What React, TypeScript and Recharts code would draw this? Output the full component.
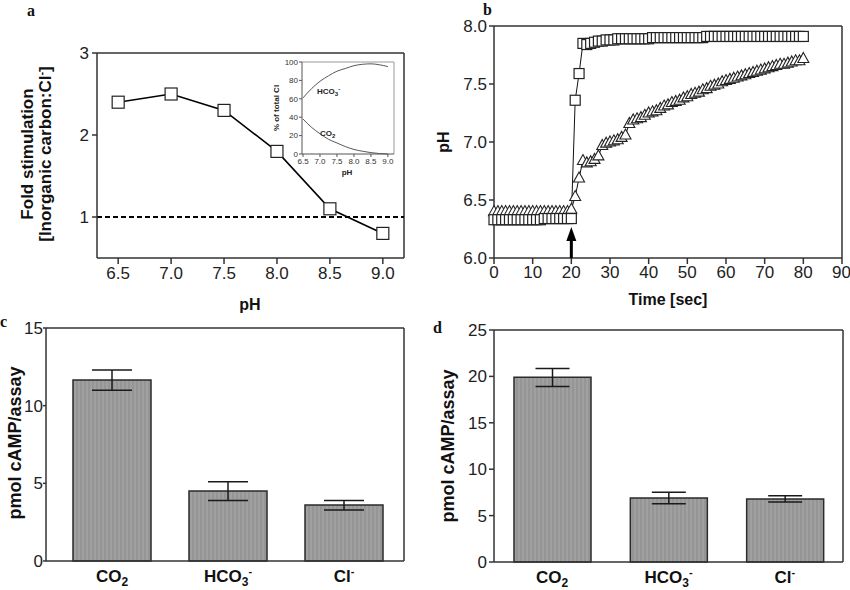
import React from "react";
import {
  Bar,
  BarChart,
  CartesianGrid,
  ErrorBar,
  Line,
  LineChart,
  ReferenceDot,
  ReferenceLine,
  XAxis,
  YAxis,
} from "recharts";

const FONT = '"Liberation Sans", Arial, Helvetica, sans-serif';
const SERIF = '"Liberation Serif", "Times New Roman", serif';
const INK = "#222";

// panel a: fold stimulation vs pH
const phValues = [6.5, 7.0, 7.5, 8.0, 8.5, 9.0];
const foldStimulation = [2.4, 2.5, 2.3, 1.8, 1.1, 0.8];

// inset: species distribution
const insetPh = [6.5, 6.75, 7.0, 7.25, 7.5, 7.75, 8.0, 8.25, 8.5, 8.75, 9.0];
const insetHco3 = [61, 71, 79, 85, 90, 93, 96, 97.5, 98, 97, 95];
const insetCo2 = [38, 29, 22, 16, 12, 8, 5, 3, 1.5, 0.5, 0];

// panel b: pH over time
const seconds = [
  0, 1, 2, 3, 4, 5, 6, 7, 8, 9, 10, 11, 12, 13, 14, 15, 16, 17, 18, 19, 20,
  21, 22, 23, 24, 25, 26, 27, 28, 29, 30, 31, 32, 33, 34, 35, 36, 37, 38, 39,
  40, 41, 42, 43, 44, 45, 46, 47, 48, 49, 50, 51, 52, 53, 54, 55, 56, 57, 58,
  59, 60, 61, 62, 63, 64, 65, 66, 67, 68, 69, 70, 71, 72, 73, 74, 75, 76, 77,
  78, 79, 80,
];
const squarePh = [
  6.33, 6.33, 6.33, 6.33, 6.33, 6.33, 6.33, 6.33, 6.33, 6.33, 6.33, 6.33, 6.33,
  6.34, 6.34, 6.34, 6.34, 6.34, 6.34, 6.34, 6.34,
  7.36, 7.59, 7.85, 7.84, 7.85, 7.86, 7.87, 7.87, 7.88, 7.88, 7.88,
  7.89, 7.89, 7.89, 7.89, 7.89, 7.89, 7.89, 7.89, 7.89,
  7.9, 7.9, 7.9, 7.9, 7.9, 7.9, 7.9, 7.9, 7.9, 7.9, 7.9, 7.9, 7.9, 7.9,
  7.91, 7.91, 7.91, 7.91, 7.91, 7.91, 7.91, 7.91, 7.91, 7.91, 7.91, 7.91, 7.91,
  7.91, 7.91, 7.91, 7.91, 7.91, 7.91, 7.91, 7.91, 7.91, 7.91, 7.91, 7.91, 7.91,
];
const trianglePh = [
  6.4, 6.4, 6.4, 6.4, 6.4, 6.4, 6.4, 6.4, 6.4, 6.4, 6.4, 6.4, 6.4, 6.4, 6.4,
  6.4, 6.4, 6.4, 6.4, 6.4,
  6.42, 6.53, 6.69, 6.84, 6.82, 6.83, 6.85, 6.88, 6.97, 6.99,
  7.0, 7.01, 7.02, 7.04, 7.06, 7.16, 7.19, 7.2, 7.21, 7.23,
  7.25, 7.26, 7.27, 7.29, 7.31, 7.32, 7.34, 7.35, 7.36, 7.38,
  7.39, 7.41, 7.42, 7.43, 7.45, 7.46, 7.48, 7.49, 7.5, 7.52,
  7.53, 7.54, 7.55, 7.56, 7.57, 7.58, 7.59, 7.6, 7.61, 7.62,
  7.63, 7.64, 7.65, 7.66, 7.67, 7.67, 7.68, 7.69, 7.7, 7.7,
  7.72,
];
const injectionTime = 20;

// panels c and d: cAMP per assay
const ions = ["CO2", "HCO3", "Cl"];
const campC = [11.65, 4.5, 3.6];
const campCErr = [[0.65, 0.65], [0.6, 0.6], [0.32, 0.3]];
const campD = [19.9, 6.9, 6.8];
const campDErr = [[1.0, 0.95], [0.62, 0.62], [0.33, 0.33]];

const foldData = phValues.map((ph, i) => ({ ph, fold: foldStimulation[i] }));
const insetData = insetPh.map((ph, i) => ({ ph, hco3: insetHco3[i], co2: insetCo2[i] }));
const timeData = seconds.map((t, i) => ({ t, sq: squarePh[i], tri: trianglePh[i] }));
const barsC = ions.map((ion, i) => ({ ion, v: campC[i], err: campCErr[i] }));
const barsD = ions.map((ion, i) => ({ ion, v: campD[i], err: campDErr[i] }));

const tickStyle = { fill: INK, fontSize: 17, fontFamily: FONT };
const axisStroke = { stroke: "#333", strokeWidth: 1.5 };

// top and right edges of the plot box
const topEdge = ({ offset }: any) => [offset.top];
const rightEdge = ({ offset }: any) => [offset.left + offset.width];

function squareDot(size: number) {
  return (p: any) => (
    <rect
      key={p.index}
      x={p.cx - size / 2}
      y={p.cy - size / 2}
      width={size}
      height={size}
      fill="#fff"
      stroke={INK}
      strokeWidth={1.2}
    />
  );
}

function triangleDot(p: any) {
  const { cx, cy } = p;
  return (
    <path
      key={p.index}
      d={`M${cx},${cy - 6} L${cx + 5.5},${cy + 4} L${cx - 5.5},${cy + 4} Z`}
      fill="#fff"
      stroke={INK}
      strokeWidth={1.1}
    />
  );
}

function Arrow(p: any) {
  const { cx, cy } = p;
  return (
    <g>
      <line x1={cx} y1={cy} x2={cx} y2={cy - 20} stroke="#000" strokeWidth={3} />
      <path d={`M${cx},${cy - 31} L${cx + 5},${cy - 17} L${cx - 5},${cy - 17} Z`} fill="#000" />
    </g>
  );
}

function IonTick({ x, y, payload }: any) {
  const v = payload.value;
  let parts: React.ReactNode = v;
  if (v === "CO2") {
    parts = (
      <>
        <tspan>CO</tspan>
        <tspan dy={4} fontSize={12}>2</tspan>
      </>
    );
  } else if (v === "HCO3") {
    parts = (
      <>
        <tspan>HCO</tspan>
        <tspan dy={4} fontSize={12}>3</tspan>
        <tspan dy={-11} fontSize={11}>-</tspan>
      </>
    );
  } else if (v === "Cl") {
    parts = (
      <>
        <tspan>Cl</tspan>
        <tspan dy={-7} fontSize={11}>-</tspan>
      </>
    );
  }
  return (
    <text x={x} y={y + 13} textAnchor="middle" fontFamily={FONT} fontWeight="bold" fontSize={17} fill="#111">
      {parts}
    </text>
  );
}

function BarTexture() {
  return (
    <defs>
      <pattern id="stripes" width={4} height={8} patternUnits="userSpaceOnUse">
        <rect width={4} height={8} fill="#9c9c9c" />
        <line x1={1} y1={0} x2={1} y2={8} stroke="#8e8e8e" strokeWidth={1} />
        <line x1={3} y1={0} x2={3} y2={8} stroke="#a6a6a6" strokeWidth={0.8} />
      </pattern>
    </defs>
  );
}

export default function App() {
  const boxAt = (left: number, top: number): React.CSSProperties => ({
    position: "absolute",
    left,
    top,
  });

  return (
    <div style={{ position: "absolute", left: 0, top: 0, width: 850, height: 590, background: "#fff", fontFamily: FONT }}>
      {/* a */}
      <div style={boxAt(0, 0)}>
        <LineChart width={420} height={300} data={foldData} margin={{ top: 53, right: 16, bottom: 0, left: 0 }}>
          <CartesianGrid
            horizontalCoordinatesGenerator={topEdge}
            verticalCoordinatesGenerator={rightEdge}
            stroke="#333"
            strokeWidth={1.5}
          />
          <XAxis
            dataKey="ph"
            type="number"
            domain={[6.3, 9.2]}
            ticks={[6.5, 7.0, 7.5, 8.0, 8.5, 9.0]}
            tickFormatter={(v: number) => v.toFixed(1)}
            height={42}
            tick={tickStyle}
            tickSize={6}
            tickMargin={3}
            axisLine={axisStroke}
            tickLine={axisStroke}
            allowDataOverflow
          />
          <YAxis
            type="number"
            domain={[0.5, 3]}
            ticks={[1, 2, 3]}
            width={97}
            tick={tickStyle}
            tickSize={5}
            tickMargin={3}
            axisLine={axisStroke}
            tickLine={axisStroke}
            allowDataOverflow
          />
          <ReferenceLine y={1} stroke="#000" strokeWidth={2} strokeDasharray="5 3" />
          <Line
            dataKey="fold"
            stroke="#000"
            strokeWidth={1.6}
            dot={squareDot(12)}
            activeDot={false}
            isAnimationActive={false}
          />
        </LineChart>
      </div>

      {/* inset */}
      <div style={boxAt(260, 50)}>
        <LineChart width={140} height={130} data={insetData} margin={{ top: 12, right: 6, bottom: 0, left: 0 }}>
          <CartesianGrid
            horizontalCoordinatesGenerator={topEdge}
            verticalCoordinatesGenerator={rightEdge}
            stroke="#999"
          />
          <XAxis
            dataKey="ph"
            type="number"
            domain={[6.47, 9.18]}
            ticks={[6.5, 7.0, 7.5, 8.0, 8.5, 9.0]}
            tickFormatter={(v: number) => v.toFixed(1)}
            height={26}
            tick={{ fill: "#333", fontSize: 8, fontFamily: FONT }}
            tickSize={3}
            tickMargin={1}
            axisLine={{ stroke: "#555" }}
            tickLine={{ stroke: "#555" }}
            allowDataOverflow
          />
          <YAxis
            type="number"
            domain={[0, 100]}
            ticks={[0, 20, 40, 60, 80, 100]}
            width={42}
            tick={{ fill: "#333", fontSize: 8, fontFamily: FONT }}
            tickSize={3}
            tickMargin={1}
            axisLine={{ stroke: "#555" }}
            tickLine={{ stroke: "#555" }}
          />
          <Line type="monotone" dataKey="hco3" stroke="#444" strokeWidth={0.9} dot={false} activeDot={false} isAnimationActive={false} />
          <Line type="monotone" dataKey="co2" stroke="#444" strokeWidth={0.9} dot={false} activeDot={false} isAnimationActive={false} />
        </LineChart>
      </div>

      {/* b */}
      <div style={boxAt(420, 0)}>
        <LineChart width={430} height={300} data={timeData} margin={{ top: 26, right: 8, bottom: 0, left: 0 }}>
          <CartesianGrid
            horizontalCoordinatesGenerator={topEdge}
            verticalCoordinatesGenerator={rightEdge}
            stroke="#333"
            strokeWidth={1.5}
          />
          <XAxis
            dataKey="t"
            type="number"
            domain={[0, 90]}
            ticks={[0, 10, 20, 30, 40, 50, 60, 70, 80, 90]}
            height={42}
            tick={tickStyle}
            tickSize={6}
            tickMargin={2}
            axisLine={axisStroke}
            tickLine={axisStroke}
          />
          <YAxis
            type="number"
            domain={[6, 8]}
            ticks={[6, 6.5, 7, 7.5, 8]}
            tickFormatter={(v: number) => v.toFixed(1)}
            width={74}
            tick={tickStyle}
            tickSize={5}
            tickMargin={2}
            axisLine={axisStroke}
            tickLine={axisStroke}
          />
          <Line dataKey="tri" stroke="#111" strokeWidth={1} dot={triangleDot} activeDot={false} isAnimationActive={false} />
          <Line dataKey="sq" stroke="#111" strokeWidth={1} dot={squareDot(10)} activeDot={false} isAnimationActive={false} />
          <ReferenceDot x={injectionTime} y={6} r={0} shape={Arrow} ifOverflow="visible" />
        </LineChart>
      </div>

      {/* c */}
      <div style={boxAt(0, 290)}>
        <BarChart width={420} height={300} data={barsC} margin={{ top: 38, right: 16, bottom: 0, left: 0 }} barSize={78}>
          <BarTexture />
          <CartesianGrid
            horizontalCoordinatesGenerator={topEdge}
            verticalCoordinatesGenerator={rightEdge}
            stroke="#333"
            strokeWidth={1.5}
          />
          <XAxis
            dataKey="ion"
            height={29}
            padding={{ left: 8, right: 2 }}
            tick={<IonTick />}
            tickSize={6}
            tickMargin={2}
            axisLine={axisStroke}
            tickLine={false}
          />
          <YAxis
            type="number"
            domain={[0, 15]}
            ticks={[0, 5, 10, 15]}
            width={46}
            tick={tickStyle}
            tickSize={3}
            tickMargin={0}
            axisLine={axisStroke}
            tickLine={axisStroke}
          />
          <Bar dataKey="v" fill="url(#stripes)" stroke="#2a2a2a" strokeWidth={1.5} isAnimationActive={false}>
            <ErrorBar dataKey="err" width={20} stroke="#1a1a1a" strokeWidth={1.5} />
          </Bar>
        </BarChart>
      </div>

      {/* d */}
      <div style={boxAt(420, 290)}>
        <BarChart width={430} height={300} data={barsD} margin={{ top: 40, right: 7, bottom: 0, left: 0 }} barSize={77}>
          <BarTexture />
          <CartesianGrid
            horizontalCoordinatesGenerator={topEdge}
            verticalCoordinatesGenerator={rightEdge}
            stroke="#333"
            strokeWidth={1.5}
          />
          <XAxis
            dataKey="ion"
            height={28}
            tick={<IonTick />}
            tickSize={6}
            tickMargin={2}
            axisLine={axisStroke}
            tickLine={false}
          />
          <YAxis
            type="number"
            domain={[0, 25]}
            ticks={[0, 5, 10, 15, 20, 25]}
            width={74}
            tick={tickStyle}
            tickSize={5}
            tickMargin={2}
            axisLine={axisStroke}
            tickLine={axisStroke}
          />
          <Bar dataKey="v" fill="url(#stripes)" stroke="#2a2a2a" strokeWidth={1.5} isAnimationActive={false}>
            <ErrorBar dataKey="err" width={17} stroke="#1a1a1a" strokeWidth={1.5} />
          </Bar>
        </BarChart>
      </div>

      {/* labels */}
      <svg width={850} height={590} style={{ position: "absolute", left: 0, top: 0, pointerEvents: "none" }}>
        <g fontFamily={SERIF} fontWeight="bold" fontSize={16} fill="#111">
          <text x={27} y={16}>a</text>
          <text x={483} y={15}>b</text>
          <text x={0} y={327}>c</text>
          <text x={433} y={333}>d</text>
        </g>
        <g fontFamily={FONT} fontWeight="bold" fill="#111">
          <text x={33} y={154} fontSize={17} textAnchor="middle" transform="rotate(-90 33 154)">
            Fold stimulation
          </text>
          <text x={51} y={154} fontSize={17} textAnchor="middle" transform="rotate(-90 51 154)">
            [Inorganic carbon:Cl<tspan dy={-6} fontSize={11}>-</tspan><tspan dy={6}>]</tspan>
          </text>
          <text x={250} y={310} fontSize={16} textAnchor="middle">pH</text>
          <text x={449} y={142} fontSize={16} textAnchor="middle" transform="rotate(-90 449 142)">pH</text>
          <text x={668} y={305} fontSize={16} textAnchor="middle">Time [sec]</text>
          <text x={21} y={443} fontSize={18} textAnchor="middle" transform="rotate(-90 21 443)">pmol cAMP/assay</text>
          <text x={454} y={446} fontSize={18} textAnchor="middle" transform="rotate(-90 454 446)">pmol cAMP/assay</text>
        </g>
        <g fontFamily={FONT} fontWeight="bold" fill="#222" fontSize={8}>
          <text x={279} y={108} textAnchor="middle" transform="rotate(-90 279 108)">% of total CI</text>
          <text x={347} y={175} textAnchor="middle">pH</text>
          <text x={317} y={94}>
            HCO<tspan dy={2} fontSize={6}>3</tspan><tspan dy={-5} fontSize={6}>-</tspan>
          </text>
          <text x={320} y={136}>
            CO<tspan dy={2} fontSize={6}>2</tspan>
          </text>
        </g>
      </svg>
    </div>
  );
}
